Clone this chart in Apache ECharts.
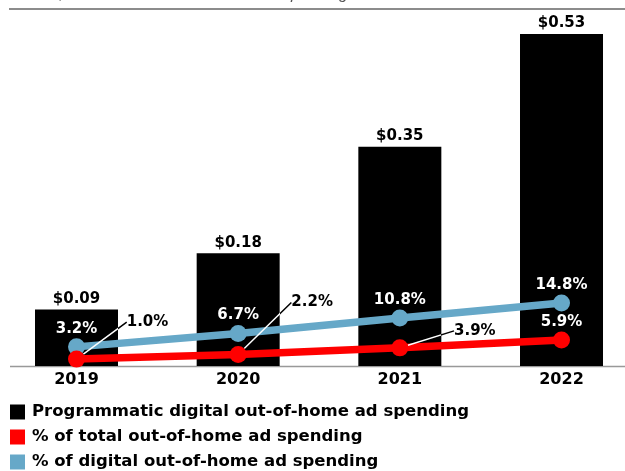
<!DOCTYPE html>
<html>
<head>
<meta charset="utf-8">
<script src="https://cdn.jsdelivr.net/npm/echarts@6/dist/echarts.min.js"></script>
<style>
  html, body { margin: 0; padding: 0; background: #fff; }
  #chart { width: 625px; height: 471px; }
</style>
</head>
<body>
<div id="chart"></div>
<script>
// data
const years = ['2019', '2020', '2021', '2022']
const spending = [0.09, 0.18, 0.35, 0.53]          // billions
const pctOfTotal = [1.0, 2.2, 3.9, 5.9]             // % of total OOH
const pctOfDigital = [3.2, 6.7, 10.8, 14.8]         // % of digital OOH
const seriesNames = [
  'Programmatic digital out-of-home ad spending',
  '% of total out-of-home ad spending',
  '% of digital out-of-home ad spending'
]

const FONT = '"DejaVu Sans", sans-serif'
const RED = '#ff0000'
const BLUE = '#66a8c8'
const BAR_W = 83

// shifts for the red labels that sit off to the side with a leader line
const redShift = [
  { dx: 71, dy: -19 },
  { dx: 74, dy: -34 },
  { dx: 75, dy: 1 },
  null
]

const chart = echarts.init(document.getElementById('chart'), null, { renderer: 'canvas' })

function leaderColor(edges) {
  // white over the bars, black elsewhere
  const stops = [{ offset: 0, color: '#000' }]
  edges.forEach(([a, b]) => {
    stops.push({ offset: a / 625, color: '#000' })
    stops.push({ offset: a / 625, color: '#fff' })
    stops.push({ offset: b / 625, color: '#fff' })
    stops.push({ offset: b / 625, color: '#000' })
  })
  stops.push({ offset: 1, color: '#000' })
  return { type: 'linear', x: 0, y: 0, x2: 625, y2: 0, global: true, colorStops: stops }
}

const option = {
  animation: false,
  grid: { left: -4.33, width: 646.67, top: 10, height: 356, containLabel: false, outerBoundsMode: 'none' },
  legend: {
    orient: 'vertical',
    left: 10,
    top: 402.5,
    height: 120,
    padding: 0,
    itemWidth: 15,
    itemHeight: 15,
    itemGap: 6,
    selectedMode: false,
    textStyle: { fontFamily: FONT, fontWeight: 'bold', fontSize: 16.5, lineHeight: 19, color: '#000', padding: [0, 0, 0, 2] },
    data: [
      { name: seriesNames[0], icon: 'rect' },
      { name: seriesNames[1], icon: 'rect' },
      { name: seriesNames[2], icon: 'rect' }
    ]
  },
  xAxis: {
    type: 'category',
    data: years,
    axisLine: { show: false },
    axisTick: { show: false },
    axisLabel: { fontFamily: FONT, fontWeight: 'bold', fontSize: 16, color: '#000', margin: 6 }
  },
  yAxis: [
    { type: 'value', min: 0, max: 0.5683, show: false },
    { type: 'value', min: -0.773, max: 90.98, show: false },
    { type: 'value', min: -1.847, max: 92.08, show: false }
  ],
  graphic: [
    {
      type: 'text', left: 10, top: -13, silent: true,
      style: { text: 'billions, and % of total out-of-home ad spending', font: 'italic 16px "Liberation Sans", sans-serif', fill: '#555' }
    },
    { type: 'line', silent: true, shape: { x1: 9, y1: 9, x2: 625, y2: 9 }, style: { stroke: '#8c8c8c', lineWidth: 2 } },
    { type: 'line', silent: true, z: -1, shape: { x1: 10, y1: 366.5, x2: 625, y2: 366.5 }, style: { stroke: '#999', lineWidth: 1.5 } }
  ],
  series: [
    {
      name: seriesNames[0],
      type: 'bar',
      data: spending,
      barWidth: BAR_W,
      itemStyle: { color: '#000' },
      label: {
        show: true,
        position: 'top',
        distance: 3,
        fontFamily: FONT, fontWeight: 'bold', fontSize: 15, color: '#000',
        formatter: p => '$' + p.value.toFixed(2)
      }
    },
    {
      name: seriesNames[2],
      type: 'line',
      yAxisIndex: 2,
      data: pctOfDigital,
      symbol: 'circle',
      symbolSize: 17,
      lineStyle: { color: BLUE, width: 7.5 },
      itemStyle: { color: BLUE },
      label: {
        show: true,
        position: 'top',
        distance: 2,
        fontFamily: FONT, fontWeight: 'bold', fontSize: 15, color: '#fff',
        formatter: p => p.value.toFixed(1) + '%'
      }
    },
    {
      name: seriesNames[1],
      type: 'line',
      yAxisIndex: 1,
      data: pctOfTotal.map((v, i) => redShift[i]
        ? { value: v }
        : { value: v, label: { color: '#fff' }, labelLine: { show: false } }),
      symbol: 'circle',
      symbolSize: 17,
      lineStyle: { color: RED, width: 7.5 },
      itemStyle: { color: RED },
      label: {
        show: true,
        position: 'top',
        distance: 2,
        fontFamily: FONT, fontWeight: 'bold', fontSize: 15, color: '#000',
        formatter: p => p.value.toFixed(1) + '%'
      },
      labelLine: { show: true, lineStyle: { color: '#000', width: 1.5 } },
      labelLayout: p => redShift[p.dataIndex] || {}
    }
  ]
}

chart.setOption(option)

// leader lines: white where they cross a bar
const edges = years.map((y, i) => {
  const cx = chart.convertToPixel({ xAxisIndex: 0 }, i)
  return [cx - BAR_W / 2, cx + BAR_W / 2]
})
chart.setOption({ series: [{}, {}, { labelLine: { lineStyle: { color: leaderColor(edges) } } }] })
</script>
</body>
</html>
